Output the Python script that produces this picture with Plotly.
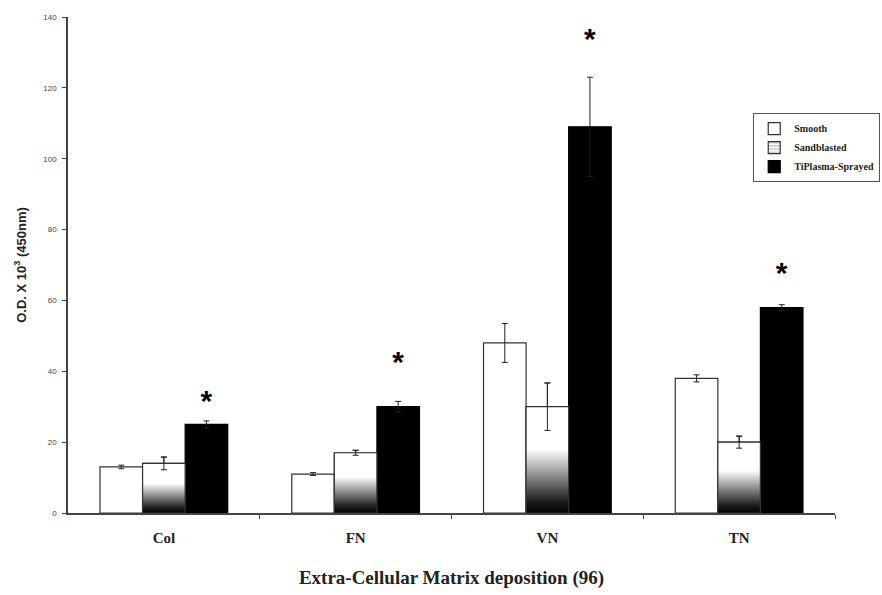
import plotly.graph_objects as go

categories = ["Col", "FN", "VN", "TN"]
smooth = [13, 11, 48, 38]
smooth_err = [0.5, 0.4, 5.5, 1.0]
sandblasted = [14, 17, 30, 20]
sandblasted_err = [1.8, 0.7, 6.7, 1.7]
tiplasma = [25, 30, 109, 58]
tiplasma_err = [1.0, 1.5, 14, 0.8]
star_y = [31, 42, 133, 67]
y_ticks = [0, 20, 40, 60, 80, 100, 120, 140]

xpos = list(range(len(categories)))
bw = 0.222
offs = [-bw, 0.0, bw]
edge = "#333333"

fig = go.Figure()

err_style = dict(type="data", visible=True, color="#222222", thickness=1, width=3)

fig.add_trace(go.Bar(
    x=[x + offs[0] for x in xpos], y=smooth, width=bw, name="Smooth",
    marker=dict(color="white", line=dict(color=edge, width=1.2)),
    error_y=dict(array=smooth_err, **err_style),
))
fig.add_trace(go.Bar(
    x=[x + offs[1] for x in xpos], y=sandblasted, width=bw, name="Sandblasted",
    marker=dict(color="white", line=dict(color=edge, width=1.2),
                pattern=dict(shape="-", fgcolor="#555555", size=4, solidity=0.3)),
    error_y=dict(array=sandblasted_err, **err_style),
))
fig.add_trace(go.Bar(
    x=[x + offs[2] for x in xpos], y=tiplasma, width=bw, name="TiPlasma-Sprayed",
    marker=dict(color="black", line=dict(color="black", width=1.2)),
    error_y=dict(array=tiplasma_err, **err_style),
))

# gradient overlay for sandblasted bars
for x, v in zip(xpos, sandblasted):
    x0 = x + offs[1] - bw / 2
    x1 = x + offs[1] + bw / 2
    fig.add_trace(go.Scatter(
        x=[x0, x1, x1, x0, x0], y=[0, 0, v, v, 0],
        fill="toself", mode="lines",
        line=dict(color=edge, width=1.2),
        fillgradient=dict(type="vertical",
                          colorscale=[[0, "black"], [0.1, "#1a1a1a"], [0.6, "white"], [1, "white"]]),
        showlegend=False, hoverinfo="skip",
    ))

# re-draw error bars for sandblasted on top of gradient
fig.add_trace(go.Scatter(
    x=[x + offs[1] for x in xpos], y=sandblasted, mode="markers",
    marker=dict(size=0.1, color="rgba(0,0,0,0)"),
    error_y=dict(array=sandblasted_err, **err_style),
    showlegend=False, hoverinfo="skip",
))

# significance stars
fig.add_trace(go.Scatter(
    x=[x + offs[2] for x in xpos], y=star_y, mode="text", text=["<b>*</b>"] * len(xpos),
    textposition="middle center",
    textfont=dict(family="Liberation Sans", size=30, color="black"),
    showlegend=False, hoverinfo="skip",
))

fig.update_layout(
    width=882, height=595,
    margin=dict(l=68, r=47, t=17, b=82, autoexpand=False),
    plot_bgcolor="white", paper_bgcolor="white",
    barmode="overlay",
    showlegend=True,
    legend=dict(xref="container", yref="container", x=0.998, y=0.81,
                xanchor="right", yanchor="top",
                bgcolor="white", bordercolor="#555555", borderwidth=1,
                font=dict(family="Liberation Serif", size=10, color="#222222", weight="bold"),
                itemwidth=30, tracegroupgap=0),
    xaxis=dict(
        range=[-0.5, 3.5], tickmode="array", tickvals=xpos,
        ticktext=["<b>%s</b>" % c for c in categories],
        ticks="", showline=True, linecolor="#444444", linewidth=1.5,
        showgrid=False, zeroline=False, ticklabelstandoff=10,
        tickfont=dict(family="Liberation Serif", size=15, color="#222222"),
        minor=dict(tickmode="array", tickvals=[0.5, 1.5, 2.5, 3.5], ticks="outside",
                   ticklen=4, tickcolor="#444444"),
        title=dict(text="<b>Extra-Cellular Matrix deposition (96)</b>",
                   font=dict(family="Liberation Serif", size=19, color="#222222"),
                   standoff=26),
    ),
    yaxis=dict(
        range=[0, 140], tickmode="array", tickvals=y_ticks,
        ticks="outside", ticklen=4, tickcolor="#444444",
        showline=True, linecolor="#444444", linewidth=1.5,
        showgrid=False, zeroline=False, ticklabelstandoff=4,
        tickfont=dict(family="Liberation Sans", size=8, color="#444444"),
        title=dict(text="<b>O.D. X 10<sup>3</sup> (450nm)</b>",
                   font=dict(family="Liberation Sans", size=13, color="#222222"),
                   standoff=14),
    ),
)

fig.write_html("out.html", config={"displayModeBar": False},
               post_script="document.body.style.margin='0px';")
